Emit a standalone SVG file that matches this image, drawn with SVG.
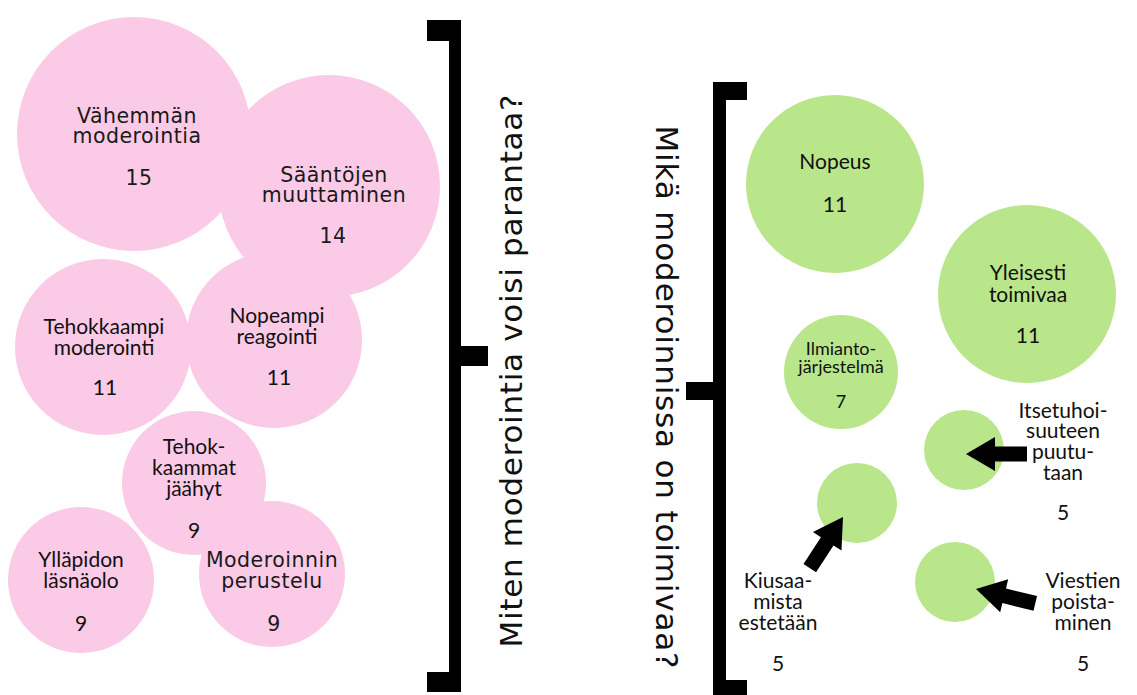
<svg xmlns="http://www.w3.org/2000/svg" xmlns:xlink="http://www.w3.org/1999/xlink" width="1137" height="695" viewBox="0 0 1137 695">
<style>
.pink{fill:#fbcae6}
.green{fill:#b9e68a}
.m{font-family:"DejaVu Sans","Open Sans",sans-serif;font-size:20.5px;fill:#1a1a1a;text-anchor:middle;letter-spacing:0.5px}
.l{font-family:Lato,"Open Sans",sans-serif;font-size:21px;fill:#111;text-anchor:middle}
.ls{font-family:Lato,"Open Sans",sans-serif;font-size:18px;fill:#111;text-anchor:middle}
.title{font-family:"DejaVu Sans","Open Sans",sans-serif;font-size:31px;fill:#111;text-anchor:middle}
.br{fill:#000}
.arr{fill:#000}
</style>
<defs>
<polygon id="arrow" points="0,0 -29,-17 -29,-7.5 -61,-7.5 -61,7.5 -29,7.5 -29,17"/>
</defs>
<rect width="1137" height="695" fill="#fff"/>

<g id="n-vahemman">
<circle class="pink" cx="134" cy="134" r="117"/>
<text class="m" x="137" y="123">Vähemmän</text>
<text class="m" x="137" y="143">moderointia</text>
<text class="m" x="139" y="185">15</text>
</g>
<g id="n-saantojen">
<circle class="pink" cx="329" cy="186" r="111"/>
<text class="m" x="334" y="182">Sääntöjen</text>
<text class="m" x="334" y="202">muuttaminen</text>
<text class="m" x="333" y="243">14</text>
</g>
<g id="n-tehokkaampi">
<circle class="pink" cx="103" cy="347" r="88"/>
<text class="l" x="104" y="334">Tehokkaampi</text>
<text class="l" x="104" y="355">moderointi</text>
<text class="l" x="105" y="395">11</text>
</g>
<g id="n-nopeampi">
<circle class="pink" cx="274" cy="340" r="88"/>
<text class="l" x="277" y="323">Nopeampi</text>
<text class="l" x="277" y="344">reagointi</text>
<text class="l" x="279" y="385">11</text>
</g>
<g id="n-jaahyt">
<circle class="pink" cx="194" cy="483" r="72"/>
<text class="l" x="194" y="454">Tehok-</text>
<text class="l" x="194" y="475">kaammat</text>
<text class="l" x="194" y="496">jäähyt</text>
<text class="l" x="194" y="538">9</text>
</g>
<g id="n-yllapidon">
<circle class="pink" cx="81" cy="580" r="73"/>
<text class="l" x="81" y="567">Ylläpidon</text>
<text class="l" x="81" y="588">läsnäolo</text>
<text class="l" x="81" y="631">9</text>
</g>
<g id="n-perustelu">
<circle class="pink" cx="272" cy="574" r="73"/>
<text class="m" x="272" y="567">Moderoinnin</text>
<text class="m" x="272" y="588">perustelu</text>
<text class="m" x="274" y="631">9</text>
</g>

<g id="n-nopeus">
<circle class="green" cx="835" cy="184" r="89"/>
<text class="l" x="835" y="169">Nopeus</text>
<text class="l" x="835" y="212">11</text>
</g>
<g id="n-yleisesti">
<circle class="green" cx="1027" cy="294" r="89"/>
<text class="l" x="1028" y="280">Yleisesti</text>
<text class="l" x="1028" y="302">toimivaa</text>
<text class="l" x="1028" y="343">11</text>
</g>
<g id="n-ilmianto">
<circle class="green" cx="841" cy="372" r="57"/>
<text class="ls" x="841" y="355">Ilmianto-</text>
<text class="ls" x="841" y="373">järjestelmä</text>
<text class="ls" x="841" y="408">7</text>
</g>
<g id="n-itsetuho">
<circle class="green" cx="964" cy="450" r="40"/>
<text class="l" x="1063" y="418">Itsetuhoi-</text>
<text class="l" x="1063" y="438">suuteen</text>
<text class="l" x="1063" y="459">puutu-</text>
<text class="l" x="1063" y="480">taan</text>
<text class="l" x="1063" y="520">5</text>
</g>
<g id="n-kiusaaminen">
<circle class="green" cx="857" cy="503" r="40"/>
<text class="l" x="778" y="588">Kiusaa-</text>
<text class="l" x="778" y="609">mista</text>
<text class="l" x="778" y="630">estetään</text>
<text class="l" x="778" y="671">5</text>
</g>
<g id="n-viestien">
<circle class="green" cx="955" cy="582" r="40"/>
<text class="l" x="1083" y="588">Viestien</text>
<text class="l" x="1083" y="609">poista-</text>
<text class="l" x="1083" y="630">minen</text>
<text class="l" x="1083" y="671">5</text>
</g>

<g id="connectors">
<use xlink:href="#arrow" class="arr" transform="translate(966,454) rotate(180)"/>
<use xlink:href="#arrow" class="arr" transform="translate(843,517) rotate(-57)"/>
<use xlink:href="#arrow" class="arr" transform="translate(976,589) rotate(-166.4)"/>
</g>

<g id="bracket-left">
<rect class="br" x="449" y="20" width="12" height="672"/>
<rect class="br" x="427" y="20" width="34" height="21"/>
<rect class="br" x="427" y="672" width="34" height="20"/>
<rect class="br" x="461" y="346" width="27" height="20"/>
</g>
<g id="bracket-right">
<rect class="br" x="713" y="82" width="13" height="613"/>
<rect class="br" x="713" y="82" width="34" height="18"/>
<rect class="br" x="713" y="680" width="34" height="15"/>
<rect class="br" x="686" y="382" width="27" height="18"/>
</g>

<g id="titles">
<text class="title" transform="translate(522,371) rotate(-90)" textLength="553" lengthAdjust="spacing">Miten moderointia voisi parantaa?</text>
<text class="title" transform="translate(656,397) rotate(90)" textLength="543" lengthAdjust="spacing">Mikä moderoinnissa on toimivaa?</text>
</g>
</svg>
